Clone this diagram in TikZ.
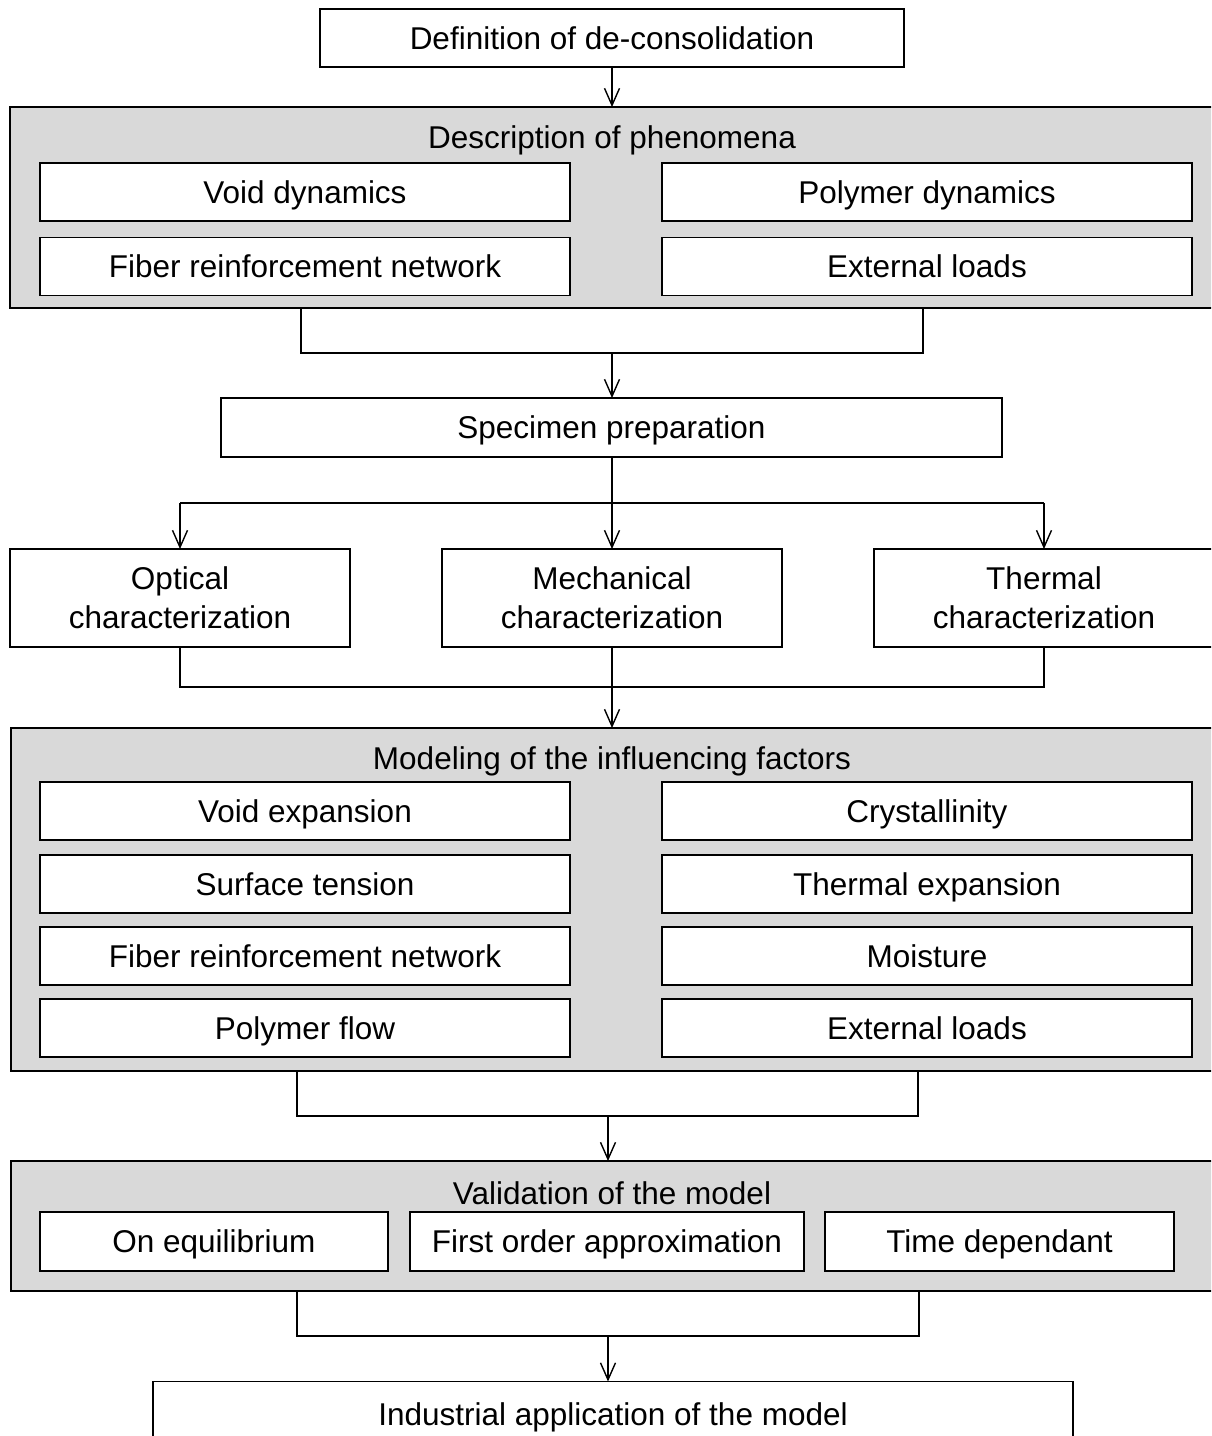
\documentclass[tikz,border=0pt]{standalone}
\usepackage{fontspec}
\setmainfont{Liberation Sans}
\usetikzlibrary{arrows.meta}
\definecolor{panelgray}{HTML}{D9D9D9}
\begin{document}
\begin{tikzpicture}[x=1pt,y=-1pt,
  txt/.style={font=\fontsize{31.5}{39}\selectfont},
  box/.style={draw,line width=1.8pt,fill=white,inner sep=0pt,outer sep=0pt,align=center,txt},
  oneline/.style={text height=22.5pt,text depth=0pt},
  panel/.style={draw,line width=1.8pt,fill=panelgray,inner sep=0pt,outer sep=0pt},
  ptitle/.style={txt,inner sep=0pt,oneline},
  sz/.style n args={2}{minimum width=#1pt,minimum height=#2pt},
  conn/.style={line width=1.4pt},
  arr/.style={conn,-{Straight Barb[length=17pt,width=15pt]}}]
\clip (0,0) rectangle (1211,1436);
\useasboundingbox (0,0) rectangle (1211,1436);
\fill[white] (0,0) rectangle (1211,1436);

% top
\node[box,oneline,sz={584}{58}] (def) at (612,38) {Definition of de-consolidation};

% description panel
\node[panel,sz={1205}{201}] (desc) at (612.5,207.5) {};
\node[ptitle] (desct) at (612,137) {Description of phenomena};
\node[box,oneline,sz={530}{58}] (vd) at (305,192) {Void dynamics};
\node[box,oneline,sz={530}{58}] (frn) at (305,266.5) {Fiber reinforcement network};
\node[box,oneline,sz={530}{58}] (pd) at (927,192) {Polymer dynamics};
\node[box,oneline,sz={530}{58}] (el) at (927,266.5) {External loads};

% specimen
\node[box,oneline,sz={781}{59}] (spec) at (611.5,427.5) {Specimen preparation};

% characterization
\node[box,sz={340}{98}] (opt) at (180,598) {Optical\\characterization};
\node[box,sz={340}{98}] (mech) at (612,598) {Mechanical\\characterization};
\node[box,sz={340}{98}] (therm) at (1044,598) {Thermal\\characterization};

% modeling panel
\node[panel,sz={1204}{343}] (model) at (613,899.5) {};
\node[ptitle] (modelt) at (612,758) {Modeling of the influencing factors};
\node[box,oneline,sz={530}{58}] (ve) at (305,811) {Void expansion};
\node[box,oneline,sz={530}{58}] (st) at (305,884) {Surface tension};
\node[box,oneline,sz={530}{58}] (frn2) at (305,956) {Fiber reinforcement network};
\node[box,oneline,sz={530}{58}] (pf) at (305,1028) {Polymer flow};
\node[box,oneline,sz={530}{58}] (cr) at (927,811) {Crystallinity};
\node[box,oneline,sz={530}{58}] (te) at (927,884) {Thermal expansion};
\node[box,oneline,sz={530}{58}] (mo) at (927,956) {Moisture};
\node[box,oneline,sz={530}{58}] (el2) at (927,1028) {External loads};

% validation panel
\node[panel,sz={1204}{130}] (valid) at (613,1226) {};
\node[ptitle] (validt) at (612,1193) {Validation of the model};
\node[box,oneline,sz={348}{59}] (eq) at (214,1241.5) {On equilibrium};
\node[box,oneline,sz={394}{59}] (fo) at (607,1241.5) {First order approximation};
\node[box,oneline,sz={349}{59}] (td) at (999.5,1241.5) {Time dependant};

% industrial
\node[box,oneline,sz={920}{66}] (ind) at (613,1414.5) {Industrial application of the model};

% connectors
\draw[arr] (def.south) -- (def.south |- desc.north);

\coordinate (j1l) at (301,353);
\coordinate (j1r) at (923,353);
\coordinate (j1m) at (612,353);
\draw[conn] (j1l |- desc.south) -- (j1l) -- (j1r) -- (j1r |- desc.south);
\draw[arr] (j1m) -- (j1m |- spec.north);

\coordinate (br) at (612,503);
\draw[conn] (opt.north |- br) -- (therm.north |- br);
\draw[arr] (spec.south -| mech.north) -- (mech.north);
\draw[arr] (opt.north |- br) -- (opt.north);
\draw[arr] (therm.north |- br) -- (therm.north);

\coordinate (j2) at (612,687);
\draw[conn] (opt.south) -- (opt.south |- j2) -- (therm.south |- j2) -- (therm.south);
\draw[arr] (mech.south) -- (mech.south |- model.north);

\coordinate (j3l) at (297,1116);
\coordinate (j3r) at (918,1116);
\coordinate (j3m) at (608,1116);
\draw[conn] (j3l |- model.south) -- (j3l) -- (j3r) -- (j3r |- model.south);
\draw[arr] (j3m) -- (j3m |- valid.north);

\coordinate (j4l) at (297,1336);
\coordinate (j4r) at (919,1336);
\coordinate (j4m) at (608,1336);
\draw[conn] (j4l |- valid.south) -- (j4l) -- (j4r) -- (j4r |- valid.south);
\draw[arr] (j4m) -- (j4m |- ind.north);
\end{tikzpicture}
\end{document}
